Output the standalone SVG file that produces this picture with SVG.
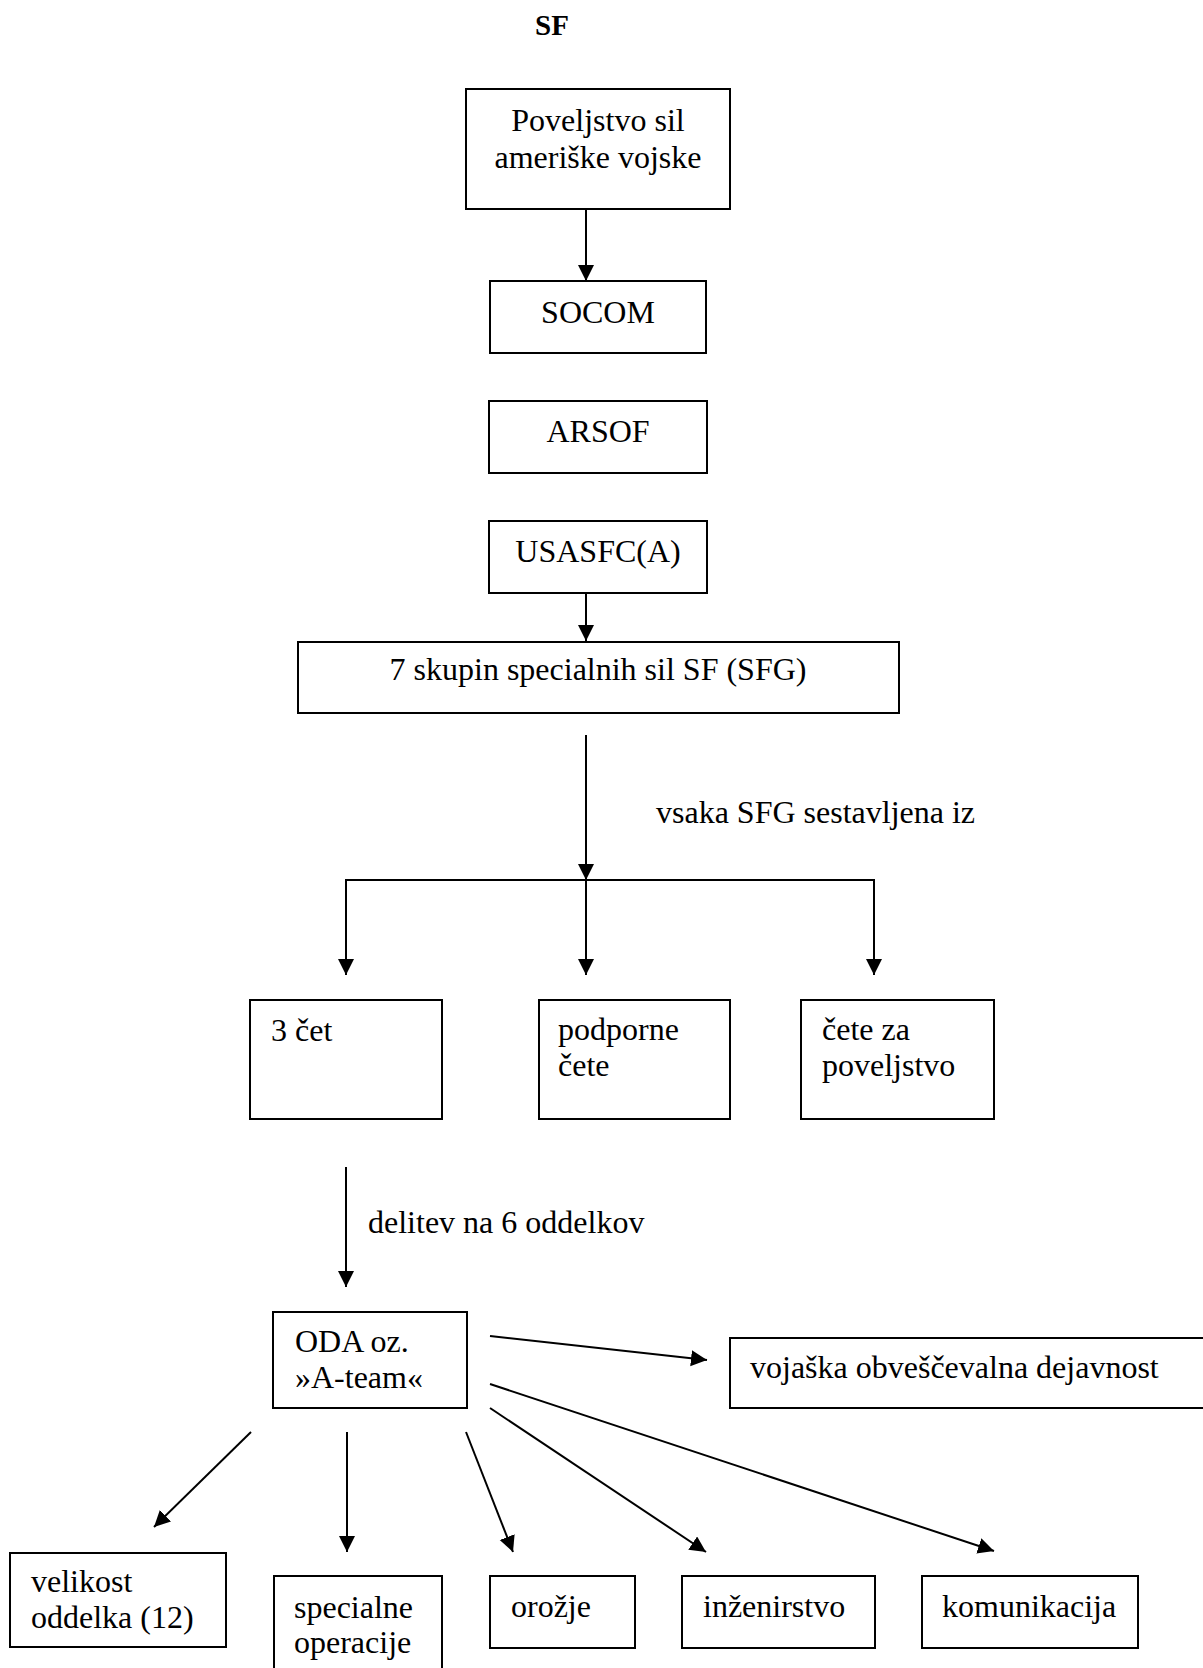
<svg xmlns="http://www.w3.org/2000/svg" width="1203" height="1668" viewBox="0 0 1203 1668">
<style>
  .box { fill: #fff; stroke: #000; stroke-width: 2; }
  .t { font-family: "Liberation Serif", "Times New Roman", serif; font-size: 32px; fill: #000; }
  .c { text-anchor: middle; }
  .title { font-family: "Liberation Serif", "Times New Roman", serif; font-size: 29px; font-weight: bold; text-anchor: middle; fill: #000; }
  .ln { stroke: #000; stroke-width: 2; fill: none; }
</style>
<defs>
  <marker id="ah" markerUnits="userSpaceOnUse" markerWidth="17" markerHeight="17" refX="16" refY="8" orient="auto">
    <path d="M0,0 L16,8 L0,16 z" fill="#000"/>
  </marker>
</defs>
<rect x="0" y="0" width="1203" height="1668" fill="#fff"/>
<text class="title" x="552" y="35">SF</text>

<g id="connectors">
  <line class="ln" x1="586" y1="209" x2="586" y2="281" marker-end="url(#ah)"/>
  <line class="ln" x1="586" y1="593" x2="586" y2="641" marker-end="url(#ah)"/>
  <line class="ln" x1="586" y1="735" x2="586" y2="880" marker-end="url(#ah)"/>
  <line class="ln" x1="345" y1="880" x2="875" y2="880"/>
  <line class="ln" x1="346" y1="880" x2="346" y2="975" marker-end="url(#ah)"/>
  <line class="ln" x1="586" y1="880" x2="586" y2="975" marker-end="url(#ah)"/>
  <line class="ln" x1="874" y1="880" x2="874" y2="975" marker-end="url(#ah)"/>
  <line class="ln" x1="346" y1="1167" x2="346" y2="1287" marker-end="url(#ah)"/>
  <line class="ln" x1="490" y1="1336" x2="707" y2="1360" marker-end="url(#ah)"/>
  <line class="ln" x1="251" y1="1432" x2="154" y2="1527" marker-end="url(#ah)"/>
  <line class="ln" x1="347" y1="1432" x2="347" y2="1552" marker-end="url(#ah)"/>
  <line class="ln" x1="466" y1="1432" x2="513" y2="1552" marker-end="url(#ah)"/>
  <line class="ln" x1="490" y1="1408" x2="706" y2="1552" marker-end="url(#ah)"/>
  <line class="ln" x1="490" y1="1384" x2="994" y2="1551" marker-end="url(#ah)"/>
  <text class="t" x="656" y="823">vsaka SFG sestavljena iz</text>
  <text class="t" x="368" y="1233">delitev na 6 oddelkov</text>
</g>

<g id="n-poveljstvo">
  <rect class="box" x="466" y="89" width="264" height="120"/>
  <text class="t c" x="598" y="131">Poveljstvo sil</text>
  <text class="t c" x="598" y="168">ameriške vojske</text>
</g>
<g id="n-socom">
  <rect class="box" x="490" y="281" width="216" height="72"/>
  <text class="t c" x="598" y="323">SOCOM</text>
</g>
<g id="n-arsof">
  <rect class="box" x="489" y="401" width="218" height="72"/>
  <text class="t c" x="598" y="442">ARSOF</text>
</g>
<g id="n-usasfc">
  <rect class="box" x="489" y="521" width="218" height="72"/>
  <text class="t c" x="598" y="562">USASFC(A)</text>
</g>
<g id="n-sfg">
  <rect class="box" x="298" y="642" width="601" height="71"/>
  <text class="t c" x="598" y="680">7 skupin specialnih sil SF (SFG)</text>
</g>
<g id="n-3cet">
  <rect class="box" x="250" y="1000" width="192" height="119"/>
  <text class="t" x="271" y="1041">3 čet</text>
</g>
<g id="n-podporne">
  <rect class="box" x="539" y="1000" width="191" height="119"/>
  <text class="t" x="558" y="1040">podporne</text>
  <text class="t" x="558" y="1076">čete</text>
</g>
<g id="n-cete-za">
  <rect class="box" x="801" y="1000" width="193" height="119"/>
  <text class="t" x="822" y="1040">čete za</text>
  <text class="t" x="822" y="1076">poveljstvo</text>
</g>
<g id="n-oda">
  <rect class="box" x="273" y="1312" width="194" height="96"/>
  <text class="t" x="295" y="1352">ODA oz.</text>
  <text class="t" x="295" y="1388">»A-team«</text>
</g>
<g id="n-vojaska">
  <rect class="box" x="730" y="1338" width="480" height="70"/>
  <text class="t" x="750" y="1378">vojaška obveščevalna dejavnost</text>
</g>
<g id="n-velikost">
  <rect class="box" x="10" y="1553" width="216" height="94"/>
  <text class="t" x="31" y="1592">velikost</text>
  <text class="t" x="31" y="1628">oddelka (12)</text>
</g>
<g id="n-specialne">
  <rect class="box" x="274" y="1576" width="168" height="110"/>
  <text class="t" x="294" y="1618">specialne</text>
  <text class="t" x="294" y="1653">operacije</text>
</g>
<g id="n-orozje">
  <rect class="box" x="490" y="1576" width="145" height="72"/>
  <text class="t" x="511" y="1617">orožje</text>
</g>
<g id="n-inzenirstvo">
  <rect class="box" x="682" y="1576" width="193" height="72"/>
  <text class="t" x="703" y="1617">inženirstvo</text>
</g>
<g id="n-komunikacija">
  <rect class="box" x="922" y="1576" width="216" height="72"/>
  <text class="t" x="942" y="1617">komunikacija</text>
</g>
</svg>
